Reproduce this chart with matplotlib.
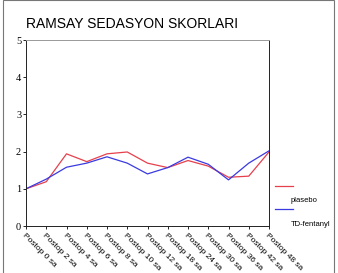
import matplotlib.pyplot as plt
import matplotlib.transforms as mtransforms
from matplotlib.patches import Rectangle
from matplotlib.lines import Line2D

labels = ["Postop 0 sa", "Postop 2 sa", "Postop 4 sa", "Postop 6 sa", "Postop 8 sa",
          "Postop 10 sa", "Postop 12 sa", "Postop 18 sa", "Postop 24 sa", "Postop 30 sa",
          "Postop 36 sa", "Postop 42 sa", "Postop 48 sa"]
plasebo = [1.0, 1.19, 1.94, 1.73, 1.94, 1.99, 1.69, 1.57, 1.76, 1.61, 1.31, 1.34, 1.99]
fentanyl = [1.0, 1.26, 1.58, 1.69, 1.86, 1.69, 1.40, 1.57, 1.85, 1.66, 1.24, 1.69, 2.02]

W, H = 338, 273
fig = plt.figure(figsize=(W / 100, H / 100), dpi=100)
ax = fig.add_axes([26 / W, 1 - 226 / H, (269 - 26) / W, (226 - 40) / H])

x = list(range(len(labels)))
ax.plot(x, plasebo, color="#e5404c", lw=0.9)
ax.plot(x, fentanyl, color="#3a3ae0", lw=0.9)

ax.set_xlim(0, len(labels) - 1)
ax.set_ylim(0, 5)
ax.set_yticks([0, 1, 2, 3, 4, 5])
ax.set_yticklabels(["0", "1", "2", "3", "4", "5"], family="Liberation Serif", fontsize=7.5)
ax.set_xticks(x)
ax.set_xticklabels(labels, rotation=-45, ha="left", va="top", rotation_mode="anchor",
                   family="Liberation Sans", fontsize=6)
shift = mtransforms.ScaledTranslation(3 / 100, 0, fig.dpi_scale_trans)
for t in ax.get_xticklabels():
    t.set_transform(t.get_transform() + shift)
ax.tick_params(axis="x", length=2.5, width=0.6, pad=2)
ax.tick_params(axis="y", length=2, width=0.6, pad=1.5)
for s in ax.spines.values():
    s.set_linewidth(0.7)
    s.set_color("#222222")
ax.spines["top"].set_color("#999999")

fig.text(26 / W, 1 - 24 / H, "RAMSAY SEDASYON SKORLARI", family="Liberation Sans",
         fontsize=10, va="center", ha="left")

# legend
fig.add_artist(Line2D([275 / W, 293 / W], [1 - 186 / H, 1 - 186 / H], color="#e5404c", lw=0.9))
fig.text(291 / W, 1 - 201 / H, "plasebo", family="Liberation Sans", fontsize=5.5, va="center")
fig.add_artist(Line2D([275 / W, 293 / W], [1 - 209 / H, 1 - 209 / H], color="#3a3ae0", lw=0.9))
fig.text(291 / W, 1 - 224 / H, "TD-fentanyl", family="Liberation Sans", fontsize=5.5, va="center")

fig.add_artist(Rectangle((2.5 / W, -10 / H), (334 - 2.5) / W, (278 - 5 + 10) / H,
                         transform=fig.transFigure, fill=False, edgecolor="#777777", lw=0.8))

fig.savefig("out.png", dpi=100)
